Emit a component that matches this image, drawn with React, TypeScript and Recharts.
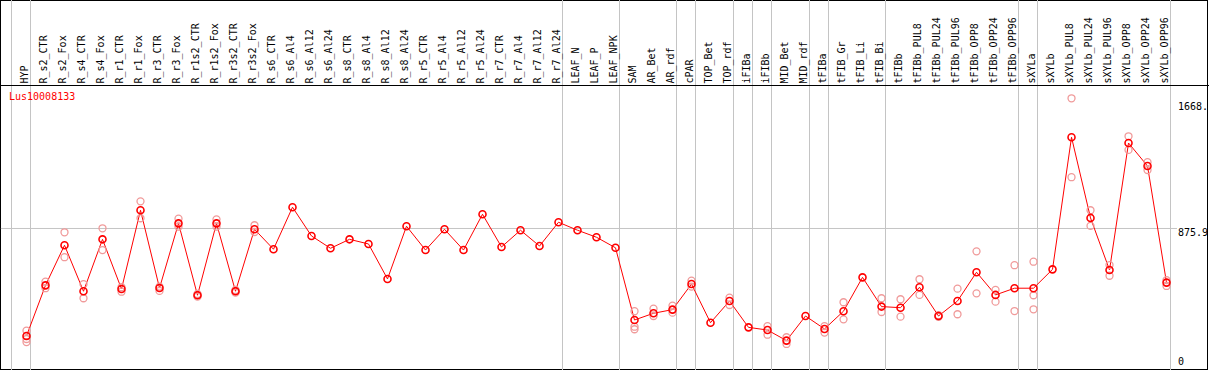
import React from 'react';
import { ComposedChart, Line, Scatter, XAxis, YAxis, ReferenceLine } from 'recharts';

const title = 'Lus10008133';

const categories = [
  'HYP', 'R_s2_CTR', 'R_s2_Fox', 'R_s4_CTR', 'R_s4_Fox', 'R_r1_CTR', 'R_r1_Fox', 'R_r3_CTR', 'R_r3_Fox',
  'R_r1s2_CTR', 'R_r1s2_Fox', 'R_r3s2_CTR', 'R_r3s2_Fox', 'R_s6_CTR', 'R_s6_Al4', 'R_s6_Al12', 'R_s6_Al24',
  'R_s8_CTR', 'R_s8_Al4', 'R_s8_Al12', 'R_s8_Al24', 'R_r5_CTR', 'R_r5_Al4', 'R_r5_Al12', 'R_r5_Al24',
  'R_r7_CTR', 'R_r7_Al4', 'R_r7_Al12', 'R_r7_Al24', 'LEAF_N', 'LEAF_P', 'LEAF_NPK', 'SAM', 'AR_Bet', 'AR_rdf',
  'cPAR', 'TOP_Bet', 'TOP_rdf', 'iFIBa', 'iFIBb', 'MID_Bet', 'MID_rdf', 'tFIBa', 'tFIB_Gr', 'tFIB_Li', 'tFIB_Bi',
  'tFIBb', 'tFIBb_PUL8', 'tFIBb_PUL24', 'tFIBb_PUL96', 'tFIBb_OPP8', 'tFIBb_OPP24', 'tFIBb_OPP96', 'sXYLa',
  'sXYLb', 'sXYLb_PUL8', 'sXYLb_PUL24', 'sXYLb_PUL96', 'sXYLb_OPP8', 'sXYLb_OPP24', 'sXYLb_OPP96',
];

const means = [
  203, 520, 771, 483, 808, 497, 990, 503, 908, 458, 908, 483, 871, 746, 1009, 829, 752,
  808, 779, 560, 890, 741, 871, 741, 965, 760, 865, 766, 915, 865, 821, 755, 303, 345, 368,
  528, 286, 422, 257, 240, 174, 328, 247, 358, 570, 387, 380, 508, 328, 422, 602, 460, 502, 502,
  620, 1447, 942, 616, 1411, 1267, 537,
];

const replicates: number[][] = [
  [236, 184, 165], [543, 502], [852, 696], [527, 439], [877, 741], [508, 480], [1046, 940], [512, 485], [937, 887],
  [466, 449], [933, 887], [491, 474], [896, 854], [], [], [], [],
  [], [], [], [], [], [], [], [],
  [], [], [], [], [], [], [], [358, 261, 245], [374, 328], [393, 349],
  [549, 512], [], [443, 397], [], [265, 211], [195, 153], [], [265, 224], [414, 307], [], [439, 353],
  [433, 324], [558, 460], [333, 323], [499, 339], [733, 470], [491, 418], [646, 359], [668, 458, 370],
  [], [1691, 1197], [990, 892], [647, 580], [1453, 1368], [1291, 1242], [553, 516],
];

const yTicks = [0, 875.9, 1668];
const gridValue = 875.9;
const yMax = 1771;
// group separators: drawn just after these category indexes
const separatorsAfter = [-1, 0, 28, 31, 34, 35, 37, 38, 39, 41, 42, 45, 52, 53, 60];

const lineData = means.map((v, i) => ({ idx: i, v }));
const repData = replicates.flatMap((r, i) => r.map((v) => ({ idx: i, v })));
const xTicks = categories.map((_, i) => i);

const FONT = "'DejaVu Sans Mono', 'Liberation Mono', monospace";

const XTick = (props: any) => {
  const { x, payload } = props;
  const label = categories[payload.value];
  const tx = x + 1.5;
  const ty = 83.5;
  return (
    <text x={tx} y={ty} transform={`rotate(-90, ${tx}, ${ty})`} textAnchor="start" fontFamily={FONT} fontSize={10} fill="#000">
      {label}
    </text>
  );
};

const YTick = (props: any) => {
  const { y, payload } = props;
  const v = payload.value;
  const label = v === 0 ? '0' : v === 1668 ? '1668.' : String(v);
  const ty = v === 0 ? y - 3 : y + 8;
  return (
    <text x={1178} y={ty} textAnchor="start" fontFamily={FONT} fontSize={10} fill="#000">
      {label}
    </text>
  );
};

const RepShape = (props: any) => (
  <circle cx={props.cx} cy={props.cy} r={3.5} fill="none" stroke="#f09a9a" strokeWidth={1.3} />
);

export default function App() {
  return (
    <div style={{ position: 'absolute', left: 0, top: 0, width: 1209, height: 370, background: '#fff' }}>
      <div
        style={{
          position: 'absolute', left: 0, top: 0, width: 1208, height: 370,
          border: '1px solid #000', boxSizing: 'border-box',
        }}
      />
      <div style={{ position: 'absolute', left: 0, top: 0 }}>
        <ComposedChart
          width={1209}
          height={370}
          data={lineData}
          margin={{ top: 0, right: 0, bottom: 1.6, left: 7.5 }}
        >
          <XAxis
            dataKey="idx"
            type="number"
            orientation="top"
            height={85.5}
            domain={[-1, 60.42]}
            allowDataOverflow
            ticks={xTicks}
            interval={0}
            axisLine={false}
            tickLine={false}
            tick={<XTick />}
          />
          <YAxis
            dataKey="v"
            type="number"
            orientation="right"
            width={34.5}
            domain={[0, yMax]}
            allowDataOverflow
            ticks={yTicks}
            interval={0}
            axisLine={false}
            tickLine={false}
            tick={<YTick />}
          />
          {separatorsAfter.map((s) => (
            <ReferenceLine
              key={`sep-${s}`}
              segment={[{ x: s + 0.21, y: -20 }, { x: s + 0.21, y: 2400 }]}
              stroke="#c4c4c4"
              strokeWidth={1}
              ifOverflow="visible"
            />
          ))}
          <ReferenceLine
            segment={[{ x: -1.35, y: gridValue }, { x: 60.55, y: gridValue }]}
            stroke="#c4c4c4"
            strokeWidth={1}
            ifOverflow="visible"
          />
          <ReferenceLine
            segment={[{ x: -1.5, y: yMax }, { x: 62.5, y: yMax }]}
            stroke="#000"
            strokeWidth={1}
            ifOverflow="visible"
          />
          <Scatter data={repData} dataKey="v" shape={<RepShape />} isAnimationActive={false} />
          <Line
            dataKey="v"
            stroke="#ff0000"
            strokeWidth={1}
            dot={{ r: 3.5, stroke: '#ff0000', strokeWidth: 1.6, fill: 'none' }}
            isAnimationActive={false}
          />
        </ComposedChart>
      </div>
      <div
        style={{
          position: 'absolute', left: 9, top: 92, fontFamily: FONT, fontSize: 10, lineHeight: '10px',
          color: '#ff0000', whiteSpace: 'nowrap',
        }}
      >
        {title}
      </div>
    </div>
  );
}
